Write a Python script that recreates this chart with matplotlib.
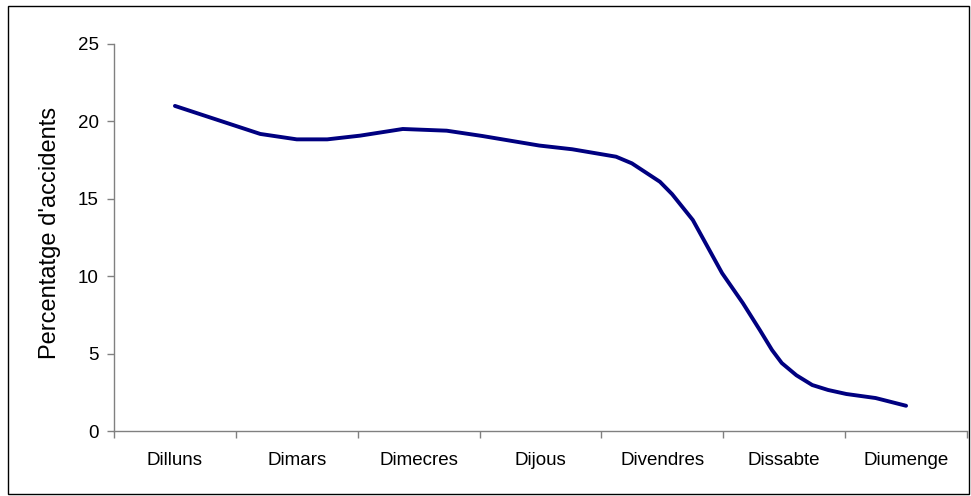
import matplotlib
matplotlib.use("Agg")
import matplotlib.pyplot as plt
from matplotlib.patches import Rectangle

# weekdays (category labels)
days = ["Dilluns", "Dimars", "Dimecres", "Dijous", "Divendres", "Dissabte", "Diumenge"]

# traced curve: position along the week (0 = Dilluns) and percentage of accidents
week_pos = [0.0, 0.70, 1.0, 1.25, 1.52, 1.87, 2.23, 2.52, 2.99, 3.26, 3.62, 3.75,
            3.98, 4.08, 4.25, 4.49, 4.66, 4.80, 4.90, 4.98, 5.10, 5.23, 5.36,
            5.51, 5.75, 6.0]
pct = [21.0, 19.19, 18.84, 18.84, 19.08, 19.51, 19.40, 19.06, 18.44, 18.2, 17.72, 17.29,
       16.1, 15.3, 13.63, 10.2, 8.27, 6.52, 5.23, 4.39, 3.6, 2.97, 2.65,
       2.39, 2.13, 1.63]

yticks = [0, 5, 10, 15, 20, 25]

plt.rcParams['font.family'] = ['Liberation Sans', 'DejaVu Sans']

fig = plt.figure(figsize=(9.71, 4.96), dpi=100)
W, H = 971, 496
ax = fig.add_axes([114 / W, 1 - 431 / H, (967 - 114) / W, (431 - 44) / H])

ax.plot(week_pos, pct, color="#000080", linewidth=2.8, solid_joinstyle="round",
        solid_capstyle="round")

ax.set_xlim(-0.5, len(days) - 0.5)
ax.set_ylim(0, 25)
ax.set_yticks(yticks)
ax.set_yticklabels([str(v) for v in yticks])

# categories between tick marks, as in a spreadsheet chart
ax.set_xticks([i - 0.5 for i in range(len(days) + 1)])
ax.set_xticklabels([])
ax.set_xticks(range(len(days)), minor=True)
ax.set_xticklabels(days, minor=True)
ax.tick_params(axis="x", which="major", length=5, color="#808080", width=1, direction="out")
ax.tick_params(axis="x", which="minor", length=0, pad=15, labelsize=13.5)
ax.tick_params(axis="y", length=5, color="#808080", width=1, direction="out", pad=6, labelsize=13.5)

for s in ["top", "right"]:
    ax.spines[s].set_visible(False)
for s in ["left", "bottom"]:
    ax.spines[s].set_color("#808080")
    ax.spines[s].set_linewidth(1)

ax.set_ylabel("Percentatge d'accidents", fontsize=17, va="center")
ax.yaxis.set_label_coords(-0.0745, 0.513)

# outer chart border
fig.patches.append(Rectangle((8 / W, 2 / H), (969 - 8) / W, (490 - 2) / H,
                             transform=fig.transFigure, fill=False,
                             edgecolor="black", linewidth=1))

fig.savefig("out.png", dpi=100)
